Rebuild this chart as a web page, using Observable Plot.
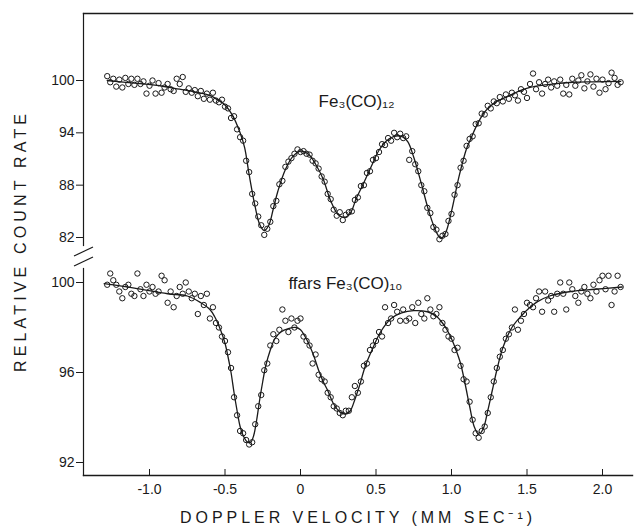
<!DOCTYPE html>
<html>
<head>
<meta charset="utf-8">
<script src="https://cdn.jsdelivr.net/npm/d3@7"></script>
<script src="https://cdn.jsdelivr.net/npm/@observablehq/plot@0.6"></script>
<style>
  html, body { margin: 0; padding: 0; background: #fff; }
  #wrap { position: relative; width: 635px; height: 527px; overflow: hidden; background: #fff; }
  #wrap > svg { position: absolute; left: 0; top: 0; }
</style>
</head>
<body>
<div id="wrap"></div>
<script>
// Doppler velocity channels (mm/s)
const velocity = [
  -1.28,-1.26,-1.24,-1.22,-1.20,-1.18,-1.16,-1.14,-1.12,-1.10,
  -1.08,-1.06,-1.04,-1.02,-1.00,-0.98,-0.96,-0.94,-0.92,-0.90,
  -0.88,-0.86,-0.84,-0.82,-0.80,-0.78,-0.76,-0.74,-0.72,-0.70,
  -0.68,-0.66,-0.64,-0.62,-0.60,-0.58,-0.56,-0.54,-0.52,-0.50,
  -0.48,-0.46,-0.44,-0.42,-0.40,-0.38,-0.36,-0.34,-0.32,-0.30,
  -0.28,-0.26,-0.24,-0.22,-0.20,-0.18,-0.16,-0.14,-0.12,-0.10,
  -0.08,-0.06,-0.04,-0.02,0.00,0.02,0.04,0.06,0.08,0.10,
  0.12,0.14,0.16,0.18,0.20,0.22,0.24,0.26,0.28,0.30,
  0.32,0.34,0.36,0.38,0.40,0.42,0.44,0.46,0.48,0.50,
  0.52,0.54,0.56,0.58,0.60,0.62,0.64,0.66,0.68,0.70,
  0.72,0.74,0.76,0.78,0.80,0.82,0.84,0.86,0.88,0.90,
  0.92,0.94,0.96,0.98,1.00,1.02,1.04,1.06,1.08,1.10,
  1.12,1.14,1.16,1.18,1.20,1.22,1.24,1.26,1.28,1.30,
  1.32,1.34,1.36,1.38,1.40,1.42,1.44,1.46,1.48,1.50,
  1.52,1.54,1.56,1.58,1.60,1.62,1.64,1.66,1.68,1.70,
  1.72,1.74,1.76,1.78,1.80,1.82,1.84,1.86,1.88,1.90,
  1.92,1.94,1.96,1.98,2.00,2.02,2.04,2.06,2.08,2.10,
  2.12
];

// Fe3(CO)12 measured relative count rate
const upperRate = [
  100.5,99.8,100.2,99.3,100.1,99.2,100.3,99.6,100.2,99.5,
  100.2,99.6,99.9,98.5,99.4,100.0,98.5,99.7,98.6,99.2,
  99.6,99.0,98.8,100.2,99.6,100.4,98.7,99.1,98.6,98.9,
  98.2,98.8,97.9,98.5,97.8,98.6,97.7,97.5,97.8,97.0,
  96.8,95.7,95.9,94.4,93.5,93.1,90.8,89.5,87.0,85.9,
  84.4,83.4,82.3,83.0,83.8,85.6,86.2,88.1,88.5,90.1,
  90.7,91.1,91.6,92.1,91.8,91.9,91.6,91.5,90.8,90.5,
  89.9,89.0,88.4,87.0,86.4,85.2,84.5,84.9,84.0,84.6,
  84.9,85.0,86.3,86.6,87.9,88.0,89.4,89.6,90.9,91.1,
  91.8,92.7,92.6,93.4,93.1,94.0,93.5,93.9,93.4,93.6,
  90.9,91.9,90.4,89.6,88.0,87.3,85.4,84.8,83.2,82.9,
  81.8,82.2,82.4,83.9,84.7,86.9,88.0,90.0,90.8,92.5,
  93.3,93.6,95.0,95.1,96.2,96.1,97.1,96.8,97.6,97.4,
  98.1,97.6,98.4,97.9,98.6,98.3,97.7,99.0,98.7,98.0,
  99.6,100.8,99.0,99.8,98.5,99.6,100.1,99.2,99.9,99.4,
  100.1,98.5,99.5,98.4,100.2,99.4,100.0,100.6,99.1,99.9,
  100.7,99.3,100.2,98.6,100.1,99.0,99.7,100.9,100.3,99.5,
  99.8
];

// "ffars Fe3(CO)10" measured relative count rate
const lowerRate = [
  99.9,100.4,100.1,99.9,99.6,99.3,99.8,99.9,99.5,99.4,
  100.4,99.7,99.4,99.9,99.6,99.8,99.5,99.6,100.3,100.1,
  99.1,99.6,98.9,99.4,99.8,99.5,100.0,99.6,99.3,99.5,
  98.6,99.4,99.0,99.5,98.4,98.9,98.2,98.0,97.6,97.4,
  96.9,96.2,94.9,94.1,93.4,93.3,93.0,92.8,92.9,93.7,
  94.5,95.0,96.1,96.4,97.2,97.7,97.4,97.9,98.8,98.3,
  97.8,98.4,98.0,98.3,98.4,97.6,97.4,97.2,96.4,96.8,
  95.9,95.7,95.6,95.1,94.9,94.5,94.4,94.2,94.1,94.3,
  94.3,94.9,95.4,95.1,95.6,96.3,96.4,97.0,97.2,97.4,
  97.8,97.6,98.9,98.2,98.4,99.0,98.7,98.3,98.8,98.3,
  98.4,98.9,98.2,99.1,98.6,98.4,99.3,98.8,98.5,98.6,
  98.9,98.2,97.9,97.6,97.5,97.0,97.1,96.3,95.7,95.6,
  94.7,93.9,93.3,93.1,93.4,93.6,94.2,94.9,95.6,96.2,
  96.7,97.0,97.5,97.7,98.0,98.8,97.9,98.3,98.6,99.1,
  99.0,98.9,99.3,99.6,98.7,99.6,99.2,99.4,98.7,99.5,
  100.0,99.5,98.8,100.0,99.7,99.4,99.1,99.6,99.8,99.5,
  99.3,99.9,99.6,100.1,100.3,99.7,100.3,99.0,99.6,100.3,
  99.8
];

// Fitted curves
const upperFitV = [-1.28,-1.10,-0.93,-0.80,-0.70,-0.60,-0.55,-0.50,-0.45,-0.40,-0.37,-0.34,-0.30,-0.27,-0.24,-0.21,-0.18,-0.15,-0.10,-0.05,
  0.00,0.05,0.10,0.15,0.20,0.25,0.29,0.33,0.37,0.42,0.47,0.52,0.57,0.62,0.67,0.71,0.75,0.80,0.85,0.90,0.93,0.96,
  1.00,1.05,1.10,1.13,1.16,1.19,1.22,1.26,1.30,1.35,1.40,1.45,1.52,1.60,1.70,1.80,1.95,2.12];
const upperFitRate = [100.0,99.7,99.4,99.0,98.7,98.3,97.8,97.2,96.0,94.0,92.3,89.2,85.5,83.5,82.8,83.4,85.3,87.3,89.8,91.3,
  91.9,91.6,90.4,88.7,86.2,84.6,84.3,84.8,86.5,88.3,90.2,92.0,93.1,93.6,93.6,93.0,91.2,88.2,85.0,82.6,81.9,82.5,
  85.0,89.0,92.2,93.4,94.6,95.6,96.4,97.1,97.6,98.0,98.4,98.8,99.2,99.45,99.65,99.8,99.85,99.9];

const lowerFitV = [-1.30,-1.10,-0.88,-0.75,-0.66,-0.60,-0.57,-0.53,-0.50,-0.48,-0.46,-0.44,-0.42,-0.40,-0.38,-0.35,-0.33,-0.31,-0.29,-0.27,
  -0.25,-0.23,-0.20,-0.17,-0.13,-0.08,-0.03,0.00,0.03,0.06,0.09,0.12,0.15,0.18,0.22,0.26,0.30,0.33,0.36,0.39,
  0.43,0.48,0.53,0.60,0.67,0.75,0.84,0.90,0.94,0.97,1.00,1.03,1.06,1.09,1.12,1.15,1.18,1.21,1.24,1.27,
  1.30,1.34,1.40,1.46,1.52,1.57,1.65,1.79,1.95,2.13];
const lowerFitRate = [99.95,99.75,99.5,99.4,99.1,98.8,98.5,97.9,97.3,96.7,96.0,95.1,94.3,93.6,93.2,92.9,92.9,93.2,93.9,94.8,
  95.6,96.3,97.0,97.5,97.8,97.95,98.0,97.9,97.6,97.2,96.7,96.1,95.6,95.2,94.6,94.25,94.15,94.3,94.8,95.4,
  96.3,97.1,97.8,98.4,98.65,98.75,98.7,98.5,98.2,97.9,97.5,97.0,96.4,95.5,94.5,93.6,93.25,93.5,94.3,95.2,
  96.1,97.1,98.0,98.5,98.9,99.15,99.4,99.6,99.7,99.8];

const upperTicks = [82, 88, 94, 100];
const lowerTicks = [92, 96, 100];
const xTicks = [-1, -0.5, 0, 0.5, 1, 1.5, 2];
const xTickLabels = ["-1.0", "-0.5", "0", "0.5", "1.0", "1.5", "2.0"];

const upperLabel = {v: 0.12, rate: 97.6, text: "Fe\u2083(CO)\u2081\u2082"};
const lowerLabel = {v: -0.08, rate: 99.95, text: "ffars Fe\u2083(CO)\u2081\u2080"};
const xTitle = "DOPPLER VELOCITY (MM SEC\u207B\u00B9)";
const yTitle = "RELATIVE COUNT RATE";

const upperPts = velocity.map((v, i) => ({v, rate: upperRate[i]}));
const lowerPts = velocity.map((v, i) => ({v, rate: lowerRate[i]}));
const upperFit = upperFitV.map((v, i) => ({v, rate: upperFitRate[i]}));
const lowerFit = lowerFitV.map((v, i) => ({v, rate: lowerFitRate[i]}));

const W = 635, H = 527;
const ink = "#1a1a1a";
const font = "'Liberation Sans', Arial, sans-serif";
const xScale = {domain: [-1, 2], range: [149, 602]};

const upper = Plot.plot({
  width: W, height: H,
  marginTop: 13, marginBottom: 282, marginLeft: 83, marginRight: 3,
  style: {fontFamily: font, fontSize: "14px", color: ink, background: "transparent", overflow: "visible"},
  x: {...xScale, axis: null},
  y: {domain: [82, 100], range: [237, 80], axis: null},
  marks: [
    Plot.frame({anchor: "top", stroke: ink, strokeWidth: 1.4}),
    Plot.frame({anchor: "left", stroke: ink, strokeWidth: 1.2}),
    Plot.axisY(upperTicks, {tickSize: 7, tickPadding: 2, label: null, stroke: ink, fill: ink, tickFormat: d => String(d)}),
    Plot.line(upperFit, {x: "v", y: "rate", curve: "catmull-rom", stroke: ink, strokeWidth: 1.3}),
    Plot.dot(upperPts, {x: "v", y: "rate", r: 2.7, stroke: ink, strokeWidth: 1, fill: "none"}),
    Plot.text([upperLabel], {x: "v", y: "rate", text: "text", textAnchor: "start", fontSize: 17, fill: ink})
  ]
});

const lower = Plot.plot({
  width: W, height: H,
  marginTop: 268, marginBottom: 52, marginLeft: 83, marginRight: 3,
  style: {fontFamily: font, fontSize: "14px", color: ink, background: "transparent", overflow: "visible"},
  x: {...xScale, axis: null},
  y: {domain: [92, 100], range: [462, 282], axis: null},
  marks: [
    Plot.frame({anchor: "bottom", stroke: ink, strokeWidth: 1.4}),
    Plot.frame({anchor: "left", stroke: ink, strokeWidth: 1.2}),
    Plot.axisY(lowerTicks, {tickSize: 7, tickPadding: 2, label: null, stroke: ink, fill: ink, tickFormat: d => String(d)}),
    Plot.axisX(xTicks, {tickSize: -6, tickPadding: 15, label: null, stroke: ink, fill: ink,
      tickFormat: d => xTickLabels[xTicks.indexOf(d)]}),
    Plot.line(lowerFit, {x: "v", y: "rate", curve: "catmull-rom", stroke: ink, strokeWidth: 1.3}),
    Plot.dot(lowerPts, {x: "v", y: "rate", r: 2.7, stroke: ink, strokeWidth: 1, fill: "none"}),
    Plot.text([lowerLabel], {x: "v", y: "rate", text: "text", textAnchor: "start", fontSize: 17, fill: ink})
  ]
});

const wrap = document.getElementById("wrap");
wrap.appendChild(upper);
wrap.appendChild(lower);

// Titles and axis-break decoration
const over = d3.select(wrap).append("svg")
  .attr("width", W).attr("height", H)
  .style("font-family", font).style("pointer-events", "none");

over.append("text")
  .attr("transform", "translate(26,243) rotate(-90)")
  .attr("text-anchor", "middle")
  .attr("font-size", 16)
  .attr("fill", ink)
  .attr("textLength", 258)
  .attr("lengthAdjust", "spacing")
  .text(yTitle);

over.append("text")
  .attr("x", 356).attr("y", 523)
  .attr("text-anchor", "middle")
  .attr("font-size", 16)
  .attr("fill", ink)
  .attr("textLength", 352)
  .attr("lengthAdjust", "spacing")
  .text(xTitle);

// axis break "//" marks on the left axis
[[256, 247], [266, 257]].forEach(([ya, yb]) => {
  over.append("line")
    .attr("x1", 74).attr("y1", ya).attr("x2", 93).attr("y2", yb)
    .attr("stroke", ink).attr("stroke-width", 1.2);
});
</script>
</body>
</html>
